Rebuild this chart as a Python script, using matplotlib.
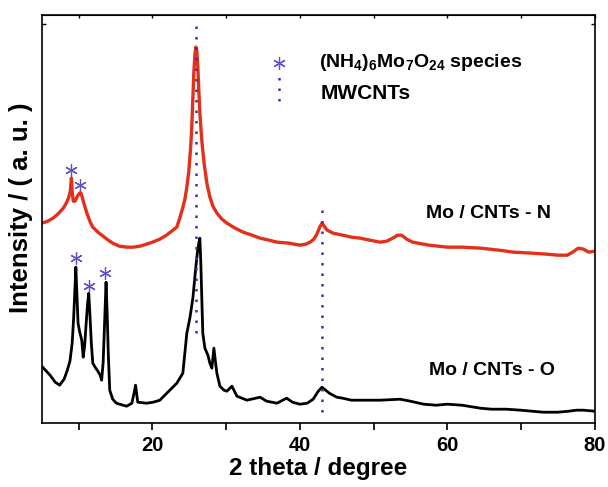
import matplotlib
matplotlib.use("Agg")
import matplotlib.pyplot as plt

plt.rcParams['font.family'] = ['Liberation Sans', 'DejaVu Sans']
plt.rcParams['font.weight'] = 'bold'
plt.rcParams['mathtext.fontset'] = 'custom'
plt.rcParams['mathtext.rm'] = 'Liberation Sans:bold'
plt.rcParams['mathtext.bf'] = 'Liberation Sans:bold'
plt.rcParams['mathtext.default'] = 'bf'

# Mo / CNTs - N (red trace), 2theta (deg) vs intensity (a.u.)
theta_n = [5.0, 5.8, 6.5, 7.0, 7.4, 7.9, 8.3, 8.6, 8.85, 9.0, 9.1, 9.25, 9.5, 9.8,
           10.1, 10.3, 10.5, 10.8, 11.1, 11.5, 11.9, 12.6, 13.3, 14.0, 14.6, 15.5,
           16.5, 17.4, 18.3, 19.2, 20.0, 21.0, 21.9, 22.6, 23.3, 23.7, 24.1, 24.4,
           24.66, 24.93, 25.2, 25.34, 25.48, 25.61, 25.75, 25.88, 26.02, 26.16,
           26.29, 26.43, 26.7, 27.0, 27.38, 27.79, 28.2, 28.74, 29.42, 30.1, 31.2,
           32.3, 33.5, 34.6, 35.8, 36.9, 38.5, 40.0, 40.8, 41.4, 41.9, 42.3, 42.7,
           43.0, 43.3, 43.7, 44.5, 45.8, 47.0, 48.2, 49.5, 50.9, 51.8, 52.6, 53.3,
           53.8, 54.5, 55.3, 57.5, 60.0, 62.0, 64.5, 67.0, 69.0, 71.5, 73.5, 75.0,
           76.3, 77.0, 77.8, 78.5, 79.2, 80.0]
int_n = [200, 202, 205, 208, 211, 215, 220, 225, 232, 245, 232, 222, 222, 227,
         230, 230, 225, 217, 210, 202, 196, 191, 187, 183, 180, 177,
         176, 176, 177, 179, 181, 184, 188, 192, 196, 205, 215, 224,
         236, 252, 278, 298, 325, 350, 368, 376, 372, 355,
         332, 310, 282, 260, 240, 226, 217, 210, 204, 200, 195,
         191, 188, 185, 183, 181, 180, 178, 179, 181, 184, 189, 196,
         200, 197, 193, 190, 188, 186, 185, 183, 181, 182, 185, 188,
         188, 184, 181, 178, 176, 176, 175, 173, 171, 170, 169, 168,
         168, 171, 175, 174, 171, 172]

# Mo / CNTs - O (black trace)
theta_o = [5.1, 5.6, 6.1, 6.8, 7.4, 8.0, 8.4, 8.8, 9.1, 9.3, 9.45, 9.6, 9.75, 9.9,
           10.1, 10.4, 10.6, 10.8, 11.0, 11.2, 11.35, 11.5, 11.7, 11.9, 12.3,
           12.5, 12.9, 13.1, 13.3, 13.5, 13.7, 13.85, 14.0, 14.2, 14.6, 15.1, 16.0,
           16.5, 17.2, 17.5, 17.7, 18.0, 19.2, 20.1, 21.0, 21.94, 23.3, 24.12,
           24.66, 25.07, 25.48, 25.88, 26.16, 26.43, 26.56, 26.7, 26.83, 27.11,
           27.52, 27.79, 28.06, 28.33, 28.6, 28.74, 29.15, 29.7, 30.1, 30.78, 31.46,
           32.82, 34.6, 35.5, 36.9, 38.2, 39.0, 40.0, 41.0, 41.8, 42.5, 43.0, 43.5,
           44.0, 45.0, 45.8, 47.0, 48.2, 50.9, 53.6, 55.0, 56.8, 58.5, 60.0, 62.0,
           64.5, 66.0, 68.0, 70.0, 71.5, 73.0, 75.0, 76.5, 77.5, 78.5, 80.0]
int_o = [56, 52, 48, 41, 38, 44, 52, 62, 80, 105, 130, 156, 128, 100,
         92, 83, 66, 78, 100, 120, 130, 110, 80, 60, 55,
         53, 48, 43, 60, 100, 141, 110, 70, 33, 24, 20, 18,
         17, 20, 30, 38, 21, 20, 21, 23, 30, 40, 50,
         90, 105, 125, 156, 175, 185, 160, 123, 90, 75,
         68, 60, 55, 75, 58, 50, 37, 33, 32, 37, 27,
         23, 26, 22, 20, 25, 21, 19, 20, 24, 32, 36, 33,
         30, 26, 25, 23, 23, 23, 24, 22, 19, 18, 19, 18,
         15, 14, 14, 13, 12, 11, 11, 12, 13, 13, 12]

# (NH4)6Mo7O24 peaks marked with asterisks
star_x = [9.0, 10.2, 9.6, 11.35, 13.6]
star_y = [253, 238, 165, 137, 150]

# MWCNTs reference lines: position, bottom, top
cnt_pos = [25.9, 43.0]
cnt_lo = [90, 11]
cnt_hi = [401, 216]

purple = '#6a4cc4'
dotted = '#4a2aa8'
dots = (0, (1, 3.2))

fig = plt.figure(figsize=(6.08, 4.87), dpi=100)
ax = fig.add_axes([0.069, 0.131, 0.909, 0.838])

ax.plot(theta_n, int_n, color='#e2301a', lw=2.4, solid_joinstyle='round')
ax.plot(theta_o, int_o, color='black', lw=2.0, solid_joinstyle='round')

for p, lo, hi in zip(cnt_pos, cnt_lo, cnt_hi):
    ax.vlines(p, lo, hi, colors=dotted, lw=1.8, linestyles=dots)

ax.plot(star_x, star_y, ls='none', marker=(6, 2, 0), ms=9, mew=0.9, color=purple)

# legend drawn by hand
ax.plot([37.2], [360], ls='none', marker=(6, 2, 0), ms=9, mew=0.9, color=purple)
ax.vlines(37.2, 322, 348, colors=dotted, lw=1.8, linestyles=dots)
ax.text(42.6, 361, r'(NH$_4$)$_6$Mo$_7$O$_{24}$ species', fontsize=14,
        fontweight='bold', va='center', ha='left')
ax.text(42.8, 330, 'MWCNTs', fontsize=15, fontweight='bold', va='center', ha='left')

ax.text(65.6, 210, 'Mo / CNTs - N', fontsize=14, fontweight='bold', ha='center', va='center')
ax.text(66.1, 53, 'Mo / CNTs - O', fontsize=14, fontweight='bold', ha='center', va='center')

ax.set_xlim(5, 80)
ax.set_ylim(0, 408)
ax.set_xticks([20, 40, 60, 80])
ax.set_xticks([10, 30, 50, 70], minor=True)
ax.set_yticks([399])
ax.tick_params(axis='x', which='both', direction='out', length=5, width=1.2,
               labelsize=14.5, pad=4)
ax.tick_params(axis='y', direction='in', length=3, width=1, left=True, right=True,
               labelleft=False)
for lab in ax.get_xticklabels():
    lab.set_fontweight('bold')
for s in ax.spines.values():
    s.set_linewidth(1.2)

# small inward ticks on top spine
sec = ax.secondary_xaxis('top')
sec.set_xticks([10, 20, 30, 40, 50, 60, 70, 80])
sec.tick_params(direction='in', length=2, width=1, labeltop=False)

ax.set_xlabel('2 theta / degree', fontsize=17.5, fontweight='bold', labelpad=2)
ax.set_ylabel('Intensity / ( a. u. )', fontsize=18.5, fontweight='bold')
ax.yaxis.set_label_coords(-0.016, 0.527)

fig.savefig('out.png', dpi=100)
